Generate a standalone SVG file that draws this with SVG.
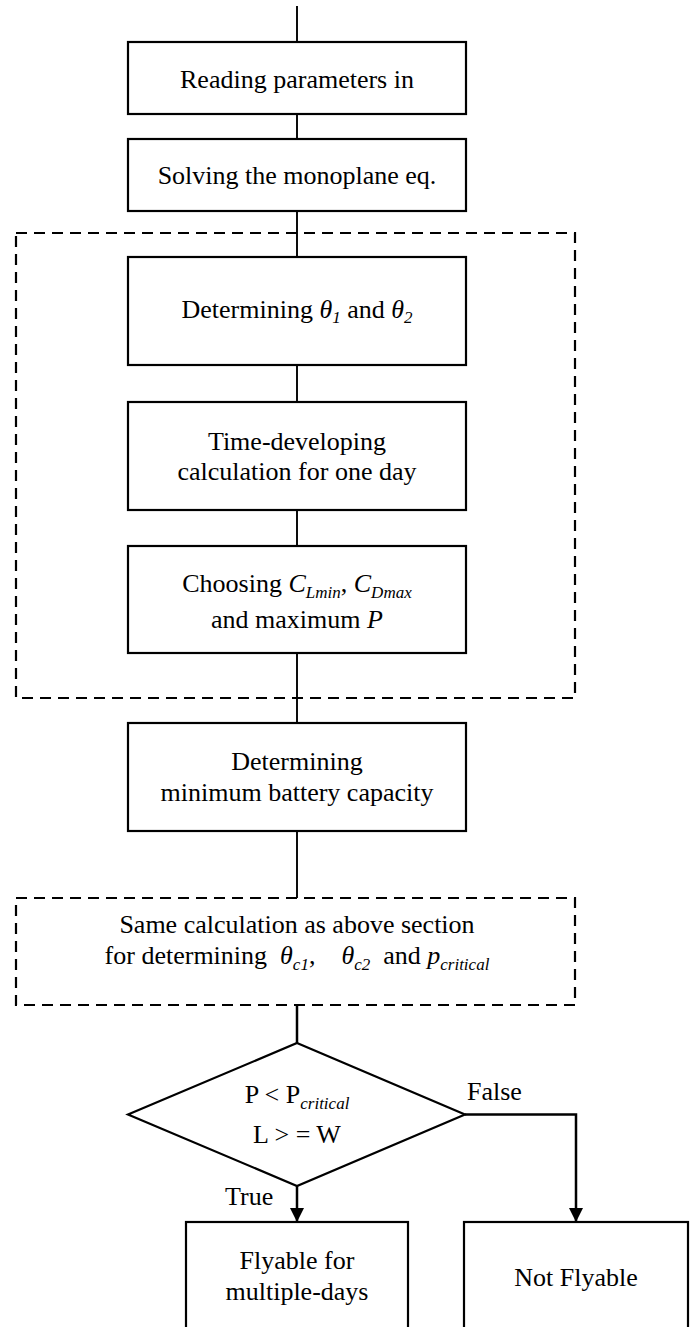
<svg xmlns="http://www.w3.org/2000/svg" width="696" height="1327" viewBox="0 0 696 1327">
<style>
.box{fill:#fff;stroke:#000;stroke-width:2.2}
.dash{fill:none;stroke:#000;stroke-width:2.2;stroke-dasharray:11 7}
.ln{fill:none;stroke:#000;stroke-width:1.9}
.arr{fill:none;stroke:#000;stroke-width:2.5}
text{font-family:"Liberation Serif","Times New Roman",serif;font-size:26px;fill:#000}
.it{font-style:italic}
.sub{font-size:17px;font-style:italic}
</style>
<defs>
<marker id="ah" viewBox="0 0 14 14" refX="14" refY="7" markerWidth="14" markerHeight="14" markerUnits="userSpaceOnUse" orient="auto">
<path d="M0,0 L14,7 L0,14 Z" fill="#000"/>
</marker>
</defs>
<g id="connectors">
<line class="ln" x1="297" y1="6" x2="297" y2="42"/>
<line class="ln" x1="297" y1="114" x2="297" y2="139"/>
<line class="ln" x1="297" y1="211" x2="297" y2="257"/>
<line class="ln" x1="297" y1="365" x2="297" y2="402"/>
<line class="ln" x1="297" y1="510" x2="297" y2="546"/>
<line class="ln" x1="297" y1="653" x2="297" y2="723"/>
<line class="ln" x1="297" y1="831" x2="297" y2="898"/>
<line class="arr" x1="297" y1="1005" x2="297" y2="1043"/>
<line class="arr" x1="297" y1="1186" x2="297" y2="1222" marker-end="url(#ah)"/>
<polyline class="arr" points="465,1114.5 576,1114.5 576,1222" marker-end="url(#ah)"/>
</g>
<g id="group1"><rect class="dash" x="16" y="233" width="559" height="465"/></g>
<g id="n1"><rect class="box" x="128" y="42" width="338" height="72"/><text x="297" y="88" text-anchor="middle">Reading parameters in</text></g>
<g id="n2"><rect class="box" x="128" y="139" width="338" height="72"/><text x="297" y="184" text-anchor="middle">Solving the monoplane eq.</text></g>
<g id="n3"><rect class="box" x="128" y="257" width="338" height="108"/><text x="297" y="318" text-anchor="middle">Determining <tspan class="it">θ</tspan><tspan class="sub" dy="5">1</tspan><tspan dy="-5"> and </tspan><tspan class="it">θ</tspan><tspan class="sub" dy="5">2</tspan></text></g>
<g id="n4"><rect class="box" x="128" y="402" width="338" height="108"/><text x="297" y="450" text-anchor="middle">Time-developing</text><text x="297" y="480" text-anchor="middle">calculation for one day</text></g>
<g id="n5"><rect class="box" x="128" y="546" width="338" height="107"/><text x="297" y="592" text-anchor="middle">Choosing <tspan class="it">C</tspan><tspan class="sub" dy="6">Lmin</tspan><tspan dy="-6">, </tspan><tspan class="it">C</tspan><tspan class="sub" dy="6">Dmax</tspan></text><text x="297" y="628" text-anchor="middle">and maximum <tspan class="it">P</tspan></text></g>
<g id="n6"><rect class="box" x="128" y="723" width="338" height="108"/><text x="297" y="770" text-anchor="middle">Determining</text><text x="297" y="801" text-anchor="middle">minimum battery capacity</text></g>
<g id="n7"><rect class="dash" x="16" y="898" width="559" height="107"/><text x="297" y="933" text-anchor="middle">Same calculation as above section</text><text x="297" y="964" text-anchor="middle" xml:space="preserve">for determining  <tspan class="it">θ</tspan><tspan class="sub" dy="6">c1</tspan><tspan dy="-6">,    </tspan><tspan class="it">θ</tspan><tspan class="sub" dy="6">c2</tspan><tspan dy="-6">  and </tspan><tspan class="it">p</tspan><tspan class="sub" dy="6">critical</tspan></text></g>
<g id="n8"><polygon class="box" points="297,1043 465,1114.5 297,1186 128,1114.5"/><text x="297" y="1103" text-anchor="middle">P &lt; P<tspan class="sub" dy="6">critical</tspan></text><text x="297" y="1143" text-anchor="middle">L &gt; = W</text></g>
<g id="labels"><text x="467" y="1100">False</text><text x="225" y="1205">True</text></g>
<g id="n9"><rect class="box" x="186" y="1222" width="222" height="110"/><text x="297" y="1269" text-anchor="middle">Flyable for</text><text x="297" y="1300" text-anchor="middle">multiple-days</text></g>
<g id="n10"><rect class="box" x="464" y="1222" width="224" height="110"/><text x="576" y="1286" text-anchor="middle">Not Flyable</text></g>
</svg>
